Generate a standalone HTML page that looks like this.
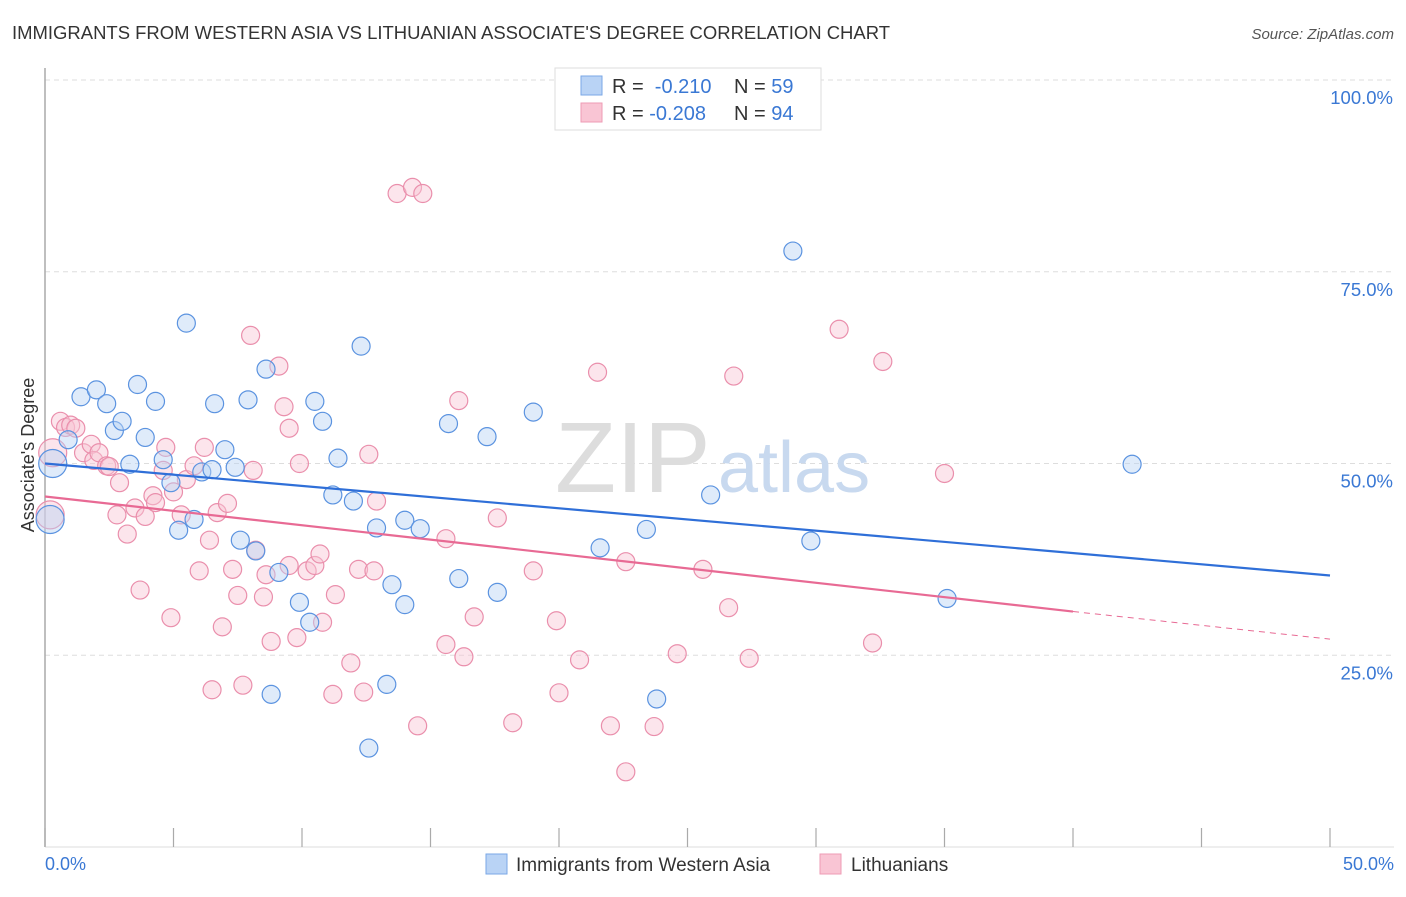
<!DOCTYPE html>
<html><head><meta charset="utf-8">
<style>
body{margin:0;background:#fff;font-family:"Liberation Sans",sans-serif;}
svg text{font-family:"Liberation Sans",sans-serif;}
</style></head>
<body>
<svg id="chart" width="1406" height="892" xmlns="http://www.w3.org/2000/svg">
<text x="12" y="39" font-size="18" fill="#333" textLength="878" lengthAdjust="spacingAndGlyphs">IMMIGRANTS FROM WESTERN ASIA VS LITHUANIAN ASSOCIATE'S DEGREE CORRELATION CHART</text>
<text x="1394" y="39" font-size="15" fill="#555" font-style="italic" text-anchor="end">Source: ZipAtlas.com</text>
<g id="grid"></g>
<text x="555" y="492" font-size="100" fill="#ddd" font-family="Liberation Serif">ZIP</text>
<text x="718" y="492" font-size="72" fill="#c8d9ef">atlas</text>
<line x1="45" y1="68" x2="45" y2="847" stroke="#aaa" stroke-width="1.5"/>
<line x1="45" y1="847" x2="1394" y2="847" stroke="#ddd" stroke-width="1"/>
<g id="xticks"></g>
<g id="points"></g>
<g id="trends"></g>
<text x="34" y="455" font-size="18" fill="#333" text-anchor="middle" transform="rotate(-90 34 455)">Associate's Degree</text>
<text x="45" y="870" font-size="18" fill="#3a78d4">0.0%</text>
<text x="1394" y="870" font-size="18" fill="#3a78d4" text-anchor="end">50.0%</text>
<g>
<rect x="555" y="68" width="266" height="62" fill="#fff" stroke="#ddd"/>
<rect x="581" y="76" width="21" height="19" fill="#b9d3f5" stroke="#7aa7e6"/>
<rect x="581" y="103" width="21" height="19" fill="#f9c5d4" stroke="#ee9bb4"/>
<text x="612" y="93" font-size="20" fill="#333">R = <tspan fill="#3a78d4">&#160;-0.210</tspan></text>
<text x="734" y="93" font-size="20" fill="#333">N = <tspan fill="#3a78d4">59</tspan></text>
<text x="612" y="120" font-size="20" fill="#333">R = <tspan fill="#3a78d4">-0.208</tspan></text>
<text x="734" y="120" font-size="20" fill="#333">N = <tspan fill="#3a78d4">94</tspan></text>
</g>
<g>
<rect x="486" y="854" width="21" height="20" fill="#b9d3f5" stroke="#7aa7e6"/>
<text x="516" y="871" font-size="19" fill="#333">Immigrants from Western Asia</text>
<rect x="820" y="854" width="21" height="20" fill="#f9c5d4" stroke="#ee9bb4"/>
<text x="851" y="871" font-size="19" fill="#333">Lithuanians</text>
</g>
</svg>
<script>
const yTicks=[25,50,75,100];
const yTickLabels=["25.0%","50.0%","75.0%","100.0%"];
const xTicks=[0,5,10,15,20,25,30,35,40,45,50];
const blueX=[0.3,0.2,0.9,1.4,2.0,2.4,2.7,3.0,3.3,3.6,3.9,4.3,4.6,4.9,5.2,5.5,5.8,6.1,6.5,6.6,7.0,7.4,7.6,7.9,8.2,8.6,8.8,9.1,9.9,10.3,10.5,10.8,11.2,11.4,12.0,12.3,12.6,12.9,13.3,13.5,14.0,14.0,14.6,15.7,16.1,17.2,17.6,19.0,21.6,23.4,23.8,25.9,29.1,29.8,42.3,35.1];
const blueY=[50.0,42.7,53.1,58.7,59.6,57.8,54.3,55.5,49.9,60.3,53.4,58.1,50.5,47.5,41.3,68.3,42.7,48.9,49.2,57.8,51.8,49.5,40.0,58.3,38.6,62.3,19.9,35.8,31.9,29.3,58.1,55.5,45.9,50.7,45.1,65.3,12.9,41.6,21.2,34.2,31.6,42.6,41.5,55.2,35.0,53.5,33.2,56.7,39.0,41.4,19.3,45.9,77.7,39.9,49.9,32.4];
const pinkX=[0.3,0.2,0.6,0.8,1.0,1.2,1.5,1.8,1.9,2.1,2.4,2.5,2.8,2.9,3.2,3.5,3.7,3.9,4.2,4.3,4.6,4.7,4.9,5.0,5.3,5.5,5.8,6.0,6.2,6.4,6.5,6.7,6.9,7.1,7.3,7.5,7.7,8.0,8.1,8.2,8.5,8.6,8.8,9.1,9.3,9.5,9.5,9.8,9.9,10.2,10.5,10.7,10.8,11.2,11.3,11.9,12.2,12.4,12.6,12.8,12.9,13.7,14.3,14.7,14.5,15.6,15.6,16.1,16.3,16.7,17.6,18.2,19.0,19.9,20.0,20.8,21.5,22.0,22.6,22.6,23.7,24.6,25.6,26.6,26.8,27.4,30.9,32.2,32.6,35.0];
const pinkY=[51.4,43.3,55.5,54.7,55.0,54.6,51.4,52.5,50.4,51.4,49.7,49.6,43.3,47.5,40.8,44.2,33.5,43.1,45.8,44.9,49.1,52.1,29.9,46.3,43.3,47.9,49.7,36.0,52.1,40.0,20.5,43.6,28.7,44.8,36.2,32.8,21.1,66.7,49.1,38.7,32.6,35.5,26.8,62.7,57.4,54.6,36.7,27.3,50.0,36.0,36.7,38.2,29.3,19.9,32.9,24.0,36.2,20.2,51.2,36.0,45.1,85.2,86.0,85.2,15.8,26.4,40.2,58.2,24.8,30.0,42.9,16.2,36.0,29.5,20.1,24.4,61.9,15.8,37.2,9.8,15.7,25.2,36.2,31.2,61.4,24.6,67.5,26.6,63.3,48.7];
const blueTrend=[50.0,35.4];
const pinkTrend=[45.7,30.7,27.1];
const X0=45,X1=1330,Y0=847,Y100=80;
function sx(v){return X0+(X1-X0)*v/50;}
function sy(v){return Y0-(Y0-Y100)*v/100;}
const NS="http://www.w3.org/2000/svg";
function mk(tag,attrs,parent){const e=document.createElementNS(NS,tag);for(const k in attrs)e.setAttribute(k,attrs[k]);document.getElementById(parent).appendChild(e);return e;}
yTicks.forEach((t,i)=>{
 const l=mk('line',{x1:45,x2:1394,y1:sy(t),y2:sy(t),stroke:'#ddd','stroke-dasharray':'5,4'},'grid');
 
 
 const tx=mk('text',{x:1393,y:sy(t)+24,'font-size':18.5,fill:'#3a78d4','text-anchor':'end'},'grid');
 tx.textContent=yTickLabels[i];
 
 
});
xTicks.forEach(t=>{
 const l=mk('line',{x1:sx(t),x2:sx(t),y1:828,y2:847,stroke:'#aaa','stroke-width':1.2},'xticks');
 
 
});
function dot(x,y,r,fill,stroke){
 const c=mk('circle',{cx:sx(x),cy:sy(y),r:r,fill:fill,'fill-opacity':0.45,stroke:stroke,'stroke-width':1.2},'points');
 return c;
}
pinkX.forEach((x,i)=>{
 const c=dot(x,pinkY[i],i<2?14:9,'#f9c5d4','#ea8fac');
 
 
});
blueX.forEach((x,i)=>{
 const c=dot(x,blueY[i],i<2?14:9,'#b9d3f5','#5b93e0');
 
 
});
const bl=mk('line',{x1:sx(0),y1:sy(blueTrend[0]),x2:sx(50),y2:sy(blueTrend[1]),stroke:'#2f6fd8','stroke-width':2.2},'trends');


const pl=mk('line',{x1:sx(0),y1:sy(pinkTrend[0]),x2:sx(40),y2:sy(pinkTrend[1]),stroke:'#e86a94','stroke-width':2.2},'trends');


const pd=mk('line',{x1:sx(40),y1:sy(pinkTrend[1]),x2:sx(50),y2:sy(pinkTrend[2]),stroke:'#e86a94','stroke-width':1,'stroke-dasharray':'6,5'},'trends');


</script>
</body></html>
